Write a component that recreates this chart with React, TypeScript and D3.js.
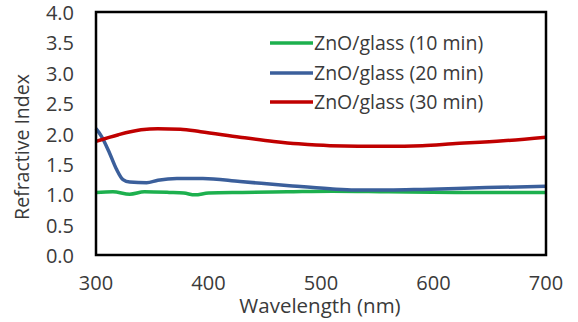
import React from "react";
import * as d3 from "d3";

const wl10 = [300, 315, 330, 343, 365, 378, 388, 400, 430, 470, 510, 560, 620, 700];
const ri10 = [1.03, 1.04, 1.0, 1.04, 1.03, 1.02, 0.99, 1.02, 1.03, 1.04, 1.05, 1.04, 1.03, 1.03];

const wl20 = [300, 305, 312, 318, 324, 330, 345, 355, 372, 395, 428, 472, 508, 530, 560, 590, 647, 700];
const ri20 = [2.08, 1.95, 1.68, 1.42, 1.24, 1.2, 1.19, 1.23, 1.26, 1.26, 1.21, 1.14, 1.09, 1.07, 1.07, 1.08, 1.11, 1.13];

const wl30 = [300, 320, 340, 355, 375, 393, 428, 458, 480, 508, 558, 590, 617, 662, 700];
const ri30 = [1.87, 1.98, 2.06, 2.08, 2.07, 2.03, 1.94, 1.87, 1.83, 1.8, 1.79, 1.8, 1.83, 1.88, 1.94];

const seriesNames = ["ZnO/glass (10 min)", "ZnO/glass (20 min)", "ZnO/glass (30 min)"];
const seriesColors = ["#1DB04E", "#3B5F9B", "#C00000"];
const xTicks = [300, 400, 500, 600, 700];
const yTicks = [0, 0.5, 1, 1.5, 2, 2.5, 3, 3.5, 4];

const W = 578;
const H = 322;
const font = "'Open Sans', sans-serif";
const textColor = "#3a3a3a";

export default function App() {
  const x = d3.scaleLinear().domain([300, 700]).range([96, 546]);
  const y = d3.scaleLinear().domain([0, 4]).range([255, 12]);
  const line = d3
    .line<[number, number]>()
    .x((d) => x(d[0]))
    .y((d) => y(d[1]))
    .curve(d3.curveMonotoneX);
  const data: [number, number][][] = [
    wl10.map((w, i) => [w, ri10[i]] as [number, number]),
    wl20.map((w, i) => [w, ri20[i]] as [number, number]),
    wl30.map((w, i) => [w, ri30[i]] as [number, number]),
  ];
  const legendY = [43, 73, 102];
  return (
    <svg
      width={W}
      height={H}
      style={{ position: "absolute", left: 0, top: 0, background: "#fff" }}
      fontFamily={font}
    >
      <rect x={0} y={0} width={W} height={H} fill="#fff" />
      {data.map((d, i) => (
        <path key={i} d={line(d) || ""} fill="none" stroke={seriesColors[i]} strokeWidth={3.5} strokeLinejoin="round" />
      ))}
      <rect x={x(300)} y={y(4)} width={x(700) - x(300)} height={y(0) - y(4)} fill="none" stroke="#000" strokeWidth={2.5} />
      {yTicks.map((t) => (
        <text key={t} x={74} y={y(t) + 1} dy="0.35em" textAnchor="end" fontSize={20} fill={textColor}>
          {t.toFixed(1)}
        </text>
      ))}
      {xTicks.map((t) => (
        <text key={t} x={x(t)} y={283} dy="0.35em" textAnchor="middle" fontSize={20} fill={textColor}>
          {t}
        </text>
      ))}
      <text x={320} y={305.5} dy="0.35em" textAnchor="middle" fontSize={20.5} fill={textColor}>
        Wavelength (nm)
      </text>
      <text transform={`translate(22,147) rotate(-90)`} dy="0.35em" textAnchor="middle" fontSize={19.5} fill={textColor}>
        Refractive Index
      </text>
      {seriesNames.map((n, i) => (
        <g key={n}>
          <line x1={270} x2={313} y1={legendY[i]} y2={legendY[i]} stroke={seriesColors[i]} strokeWidth={3.5} />
          <text x={314} y={legendY[i]} dy="0.35em" fontSize={19.5} fill={textColor}>
            {n}
          </text>
        </g>
      ))}
    </svg>
  );
}
